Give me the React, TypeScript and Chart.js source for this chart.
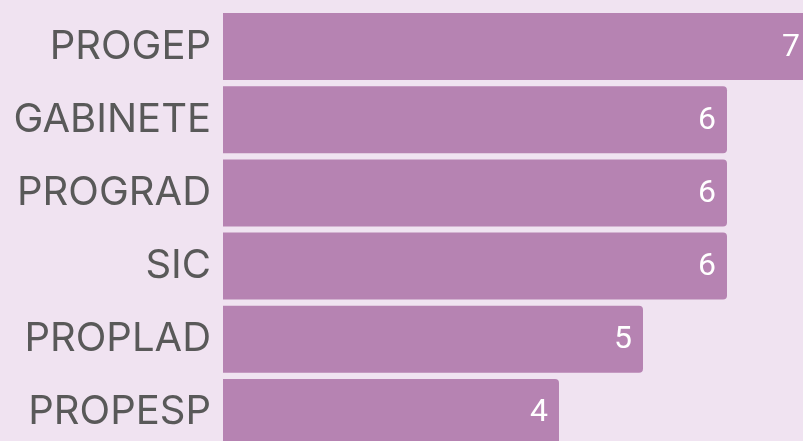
import React, { useEffect, useRef } from "react";
import { Chart, registerables } from "chart.js";

Chart.register(...registerables);

const categories = ["PROGEP", "GABINETE", "PROGRAD", "SIC", "PROPLAD", "PROPESP"];
const values = [7, 6, 6, 6, 5, 4];
const valueLabels = ["7", "6", "6", "6", "5", "4"];

const BG = "#f0e3f1";
const BAR = "#b683b2";

const valueLabelPlugin = {
  id: "valueLabels",
  afterDatasetsDraw(chart: any) {
    const ctx = chart.ctx;
    const meta = chart.getDatasetMeta(0);
    ctx.save();
    ctx.font = "32px Roboto";
    ctx.fillStyle = "#ffffff";
    ctx.textAlign = "right";
    ctx.textBaseline = "middle";
    meta.data.forEach((el: any, i: number) => {
      ctx.fillText(valueLabels[i], el.x - 11, el.y + 1);
    });
    ctx.restore();
  },
};

export default function App() {
  const ref = useRef<HTMLCanvasElement>(null);
  useEffect(() => {
    document.body.style.margin = "0";
    const chart = new Chart(ref.current as HTMLCanvasElement, {
      type: "bar",
      data: {
        labels: categories,
        datasets: [
          {
            data: values,
            backgroundColor: BAR,
            borderRadius: 4,
            borderSkipped: "start",
            barPercentage: 0.916,
            categoryPercentage: 1,
          },
        ],
      },
      options: {
        indexAxis: "y",
        animation: false,
        responsive: false,
        maintainAspectRatio: false,
        layout: { padding: { top: 10, bottom: 0, left: 0, right: 0 } },
        plugins: { legend: { display: false }, tooltip: { enabled: false } },
        scales: {
          x: {
            display: false,
            min: 0,
            max: (803 - 223) / 84,
          },
          y: {
            grid: { display: false, drawTicks: false },
            border: { display: false },
            ticks: {
              color: "#595959",
              font: { family: "Inter", size: 40, weight: "normal" },
              padding: 12,
            },
            afterFit: (scale: any) => {
              scale.width = 223;
              scale.paddingTop = 0;
              scale.paddingBottom = 0;
            },
          },
        },
      },
      plugins: [valueLabelPlugin],
    });
    return () => chart.destroy();
  }, []);
  return (
    <div
      style={{
        position: "fixed",
        left: 0,
        top: 0,
        width: 803,
        height: 441,
        overflow: "hidden",
        background: BG,
      }}
    >
      <canvas ref={ref} width={803} height={449} style={{ display: "block" }} />
    </div>
  );
}
